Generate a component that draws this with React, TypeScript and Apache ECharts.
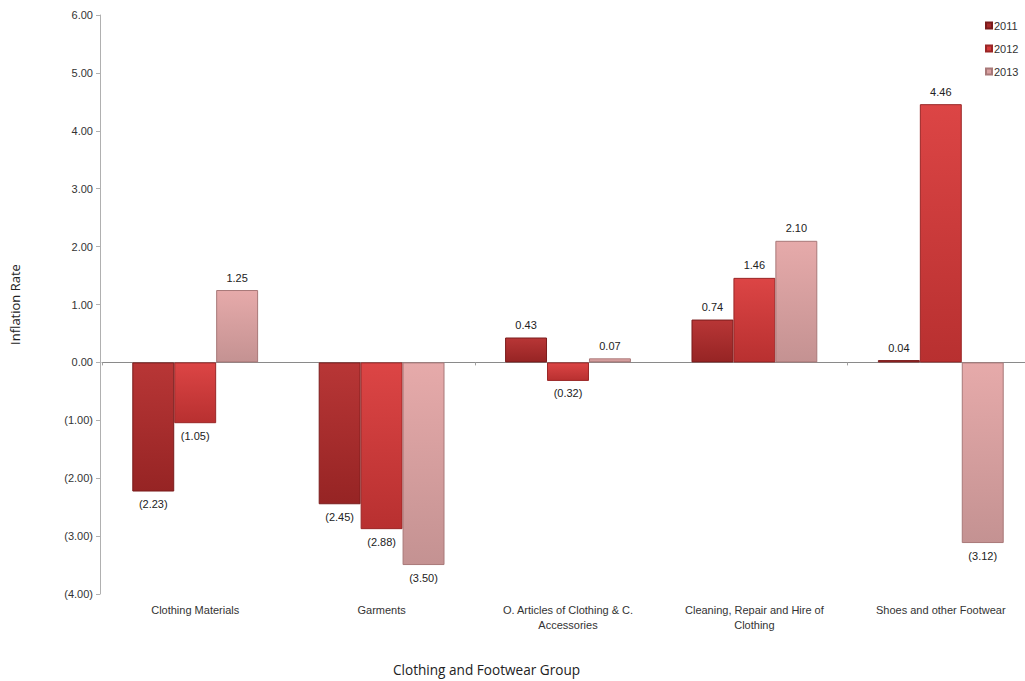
import React, { useEffect, useRef } from "react";
import * as echarts from "echarts";

const categories = [
  "Clothing Materials",
  "Garments",
  "O. Articles of Clothing & C.\nAccessories",
  "Cleaning, Repair and Hire of\nClothing",
  "Shoes and other Footwear",
];
const seriesNames = ["2011", "2012", "2013"];
const values2011 = [-2.23, -2.45, 0.43, 0.74, 0.04];
const values2012 = [-1.05, -2.88, -0.32, 1.46, 4.46];
const values2013 = [1.25, -3.5, 0.07, 2.1, -3.12];
const yTicks = { min: -4, max: 6, interval: 1 };

const fmt = (v: number) => (v < 0 ? `(${Math.abs(v).toFixed(2)})` : v.toFixed(2));

const palettes = [
  { top: "#b83636", bottom: "#962424", border: "#7a1c1c", legend: "#a52a2a" },
  { top: "#dc4545", bottom: "#b83030", border: "#9a2626", legend: "#d43a3a" },
  { top: "#e6aaaa", bottom: "#c49292", border: "#a87878", legend: "#d8a0a0" },
];

export default function App() {
  const ref = useRef<HTMLDivElement>(null);
  useEffect(() => {
    document.body.style.margin = "0";
    const chart = echarts.init(ref.current!, null, { renderer: "svg" });
    const data = [values2011, values2012, values2013];
    chart.setOption({
      animation: false,
      backgroundColor: "#ffffff",
      textStyle: { fontFamily: "Liberation Sans, Arial, sans-serif" },
      legend: {
        orient: "vertical",
        left: 980,
        top: 15,
        itemWidth: 6,
        itemHeight: 6,
        itemGap: 12,
        icon: "rect",
        textStyle: { fontSize: 11, color: "#333", padding: [0, 0, 0, -3] },
        data: seriesNames.map((n, i) => ({ name: n, itemStyle: { color: palettes[i].legend } })),
      },
      grid: { left: 101, top: 15, width: 933, height: 579, containLabel: false },
      xAxis: [
        {
          type: "category",
          data: categories,
          position: "bottom",
          axisLine: { show: false, onZero: false },
          axisTick: { show: false },
          axisLabel: {
            color: "#333",
            fontSize: 11,
            lineHeight: 15,
            margin: 8,
            interval: 0,
            fontFamily: "Liberation Sans Narrow, Liberation Sans, Arial, sans-serif",
          },
        },
        {
          type: "category",
          data: categories,
          position: "bottom",
          axisLine: { show: true, onZero: true, lineStyle: { color: "#8a8a8a" } },
          axisTick: { show: true, length: 3, lineStyle: { color: "#a0a0a0" } },
          axisLabel: { show: false },
          z: 1,
        },
      ],
      yAxis: {
        type: "value",
        min: yTicks.min,
        max: yTicks.max,
        interval: yTicks.interval,
        offset: 2,
        name: "Inflation Rate",
        nameLocation: "middle",
        nameGap: 79,
        nameTextStyle: { fontSize: 13, color: "#222", fontFamily: "Open Sans, Calibri, sans-serif" },
        axisLine: { show: true, lineStyle: { color: "#b0b0b0" } },
        axisTick: { show: true, length: 4, lineStyle: { color: "#b0b0b0" } },
        splitLine: { show: false },
        axisLabel: { color: "#333", fontSize: 11, margin: 7, formatter: (v: number) => fmt(v) },
      },
      graphic: [
        {
          type: "text",
          left: 393,
          top: 662,
          style: {
            text: "Clothing and Footwear Group",
            fontSize: 13.6,
            fill: "#222",
            fontFamily: "Open Sans, Calibri, sans-serif",
          },
        },
      ],
      series: seriesNames.map((name, i) => ({
        name,
        type: "bar",
        xAxisIndex: 0,
        data: data[i],
        barWidth: "22.5%",
        barGap: "0%",
        itemStyle: {
          color: new echarts.graphic.LinearGradient(0, 0, 0, 1, [
            { offset: 0, color: palettes[i].top },
            { offset: 1, color: palettes[i].bottom },
          ]),
          borderColor: palettes[i].border,
          borderWidth: 1,
        },
        label: {
          show: true,
          position: "outside",
          color: "#222",
          fontSize: 11,
          distance: 7,
          formatter: (p: any) => fmt(p.value),
        },
        z: 3,
      })),
    });
    return () => chart.dispose();
  }, []);
  return (
    <div style={{ width: 1025, height: 681, overflow: "hidden", position: "relative" }}>
      <div ref={ref} style={{ width: 1040, height: 681 }} />
    </div>
  );
}
